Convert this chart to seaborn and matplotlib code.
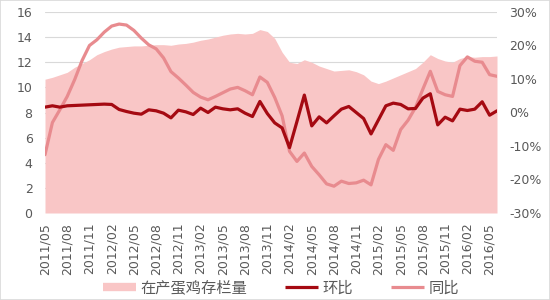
import numpy as np
import pandas as pd
import matplotlib
matplotlib.use("Agg")
import matplotlib.pyplot as plt
import seaborn as sns
from matplotlib.patches import Patch, Rectangle
from matplotlib.lines import Line2D

# ---- data ----
months = pd.period_range("2011-05", "2016-06", freq="M").strftime("%Y/%m").tolist()

stock = [10.65, 10.8, 11.0, 11.2, 11.6, 11.9, 12.2, 12.6, 12.85, 13.05,
         13.2, 13.25, 13.3, 13.3, 13.35, 13.4, 13.4, 13.35, 13.45, 13.5,
         13.6, 13.75, 13.85, 14.0, 14.15, 14.25, 14.3, 14.25, 14.3, 14.6,
         14.45, 13.9, 12.8, 12.0, 11.9, 12.2, 12.0, 11.7, 11.5, 11.3,
         11.35, 11.4, 11.25, 11.0, 10.5, 10.3, 10.5, 10.75, 11.0, 11.25,
         11.5, 12.0, 12.6, 12.3, 12.1, 12.0, 12.3, 12.45, 12.4, 12.45,
         12.45, 12.5]

mom = [1.6, 2.0, 1.6, 2.0, 2.1, 2.2, 2.3, 2.4, 2.5, 2.4,
       0.9, 0.3, -0.2, -0.5, 0.8, 0.5, -0.2, -1.6, 0.7, 0.2,
       -0.6, 1.3, 0.0, 1.6, 1.1, 0.8, 1.1, -0.2, -1.2, 3.3,
       -0.3, -3.1, -4.6, -10.5, -2.7, 5.2, -4.0, -1.3, -3.1, -1.0,
       1.0, 1.8, 0.0, -1.8, -6.4, -2.2, 2.0, 2.8, 2.4, 1.1,
       1.2, 4.3, 5.6, -3.7, -1.4, -2.5, 1.0, 0.6, 1.0, 3.2,
       -0.8, 0.5]

yoy = [-12.6, -3.0, 0.8, 4.8, 9.8, 15.5, 20.0, 21.7, 24.0, 25.8,
       26.4, 26.1, 24.5, 22.2, 20.2, 19.0, 16.3, 12.2, 10.3, 8.2,
       6.0, 4.6, 3.8, 4.8, 5.9, 7.0, 7.5, 6.5, 5.3, 10.6,
       9.0, 4.5, -1.0, -11.6, -14.6, -12.1, -16.1, -18.6, -21.3, -22.0,
       -20.5, -21.2, -21.0, -20.2, -21.6, -14.0, -9.6, -11.3, -5.1, -2.3,
       1.5, 7.0, 12.3, 6.3, 5.3, 4.8, 14.0, 16.6, 15.3, 15.0,
       11.3, 10.8]

series_names = ["在产蛋鸡存栏量", "环比", "同比"]
left_ticks = [0, 2, 4, 6, 8, 10, 12, 14, 16]
right_ticks = [-30, -20, -10, 0, 10, 20, 30]

df = pd.DataFrame({"idx": np.arange(len(months)), "month": months,
                   "stock": stock, "mom": mom, "yoy": yoy})

# ---- style ----
sns.set_theme(style="white")
plt.rcParams["font.family"] = ["DejaVu Sans"]

c_area = "#F9C6C6"
c_mom = "#A50A12"
c_yoy = "#E88B8F"
c_text = "#595959"

fig = plt.figure(figsize=(5.5, 3.0), dpi=100)
ax = fig.add_axes([45 / 550, 87 / 300, 452 / 550, 201 / 300])

ax.fill_between(df["idx"], 0, df["stock"], color=c_area, lw=0, zorder=2)
ax.set_ylim(0, 16)
ax.set_yticks(left_ticks)
ax.set_xlim(0, len(months) - 1)
ax.grid(axis="y", color="#D9D9D9", lw=0.8, zorder=0)
ax.grid(axis="x", visible=False)
ax.set_axisbelow(True)

tick_pos = df["idx"][::3].tolist()
ax.set_xticks(tick_pos)
ax.set_xticklabels(df["month"][::3].tolist(), rotation=90, fontsize=9, color=c_text)
ax.tick_params(axis="x", length=0, pad=7)
ax.tick_params(axis="y", length=0, pad=9, labelsize=9, labelcolor=c_text)
for s in ax.spines.values():
    s.set_visible(False)
ax.set_xlabel("")
ax.set_ylabel("")

ax2 = ax.twinx()
sns.lineplot(data=df, x="idx", y="yoy", ax=ax2, color=c_yoy, lw=2.3, legend=False)
sns.lineplot(data=df, x="idx", y="mom", ax=ax2, color=c_mom, lw=2.3, legend=False)
ax2.set_ylim(-30, 30)
ax2.set_yticks(right_ticks)
ax2.set_yticklabels([f"{t}%" for t in right_ticks])
ax2.tick_params(axis="y", length=0, pad=9, labelsize=9, labelcolor=c_text)
ax2.grid(False)
for s in ax2.spines.values():
    s.set_visible(False)
ax2.set_xlabel("")
ax2.set_ylabel("")
ax2.set_xlim(0, len(months) - 1)

handles = [Line2D([0], [0], color=c_area, lw=6, solid_capstyle="butt"),
           Line2D([0], [0], color=c_mom, lw=2.3, solid_capstyle="butt"),
           Line2D([0], [0], color=c_yoy, lw=2.3, solid_capstyle="butt")]
fig.legend(handles, series_names, loc="center", bbox_to_anchor=(281 / 550, 12 / 300),
           ncol=3, frameon=False, handlelength=2.15, handletextpad=0.3,
           columnspacing=2.5, labelcolor=c_text,
           prop={"family": ["Noto Sans CJK SC", "DejaVu Sans"], "size": 11})

fig.patches.append(Rectangle((0, 0), 1, 1, transform=fig.transFigure, fill=False,
                             edgecolor="#D9D9D9", lw=1.2))

fig.savefig("out.png", dpi=100)
